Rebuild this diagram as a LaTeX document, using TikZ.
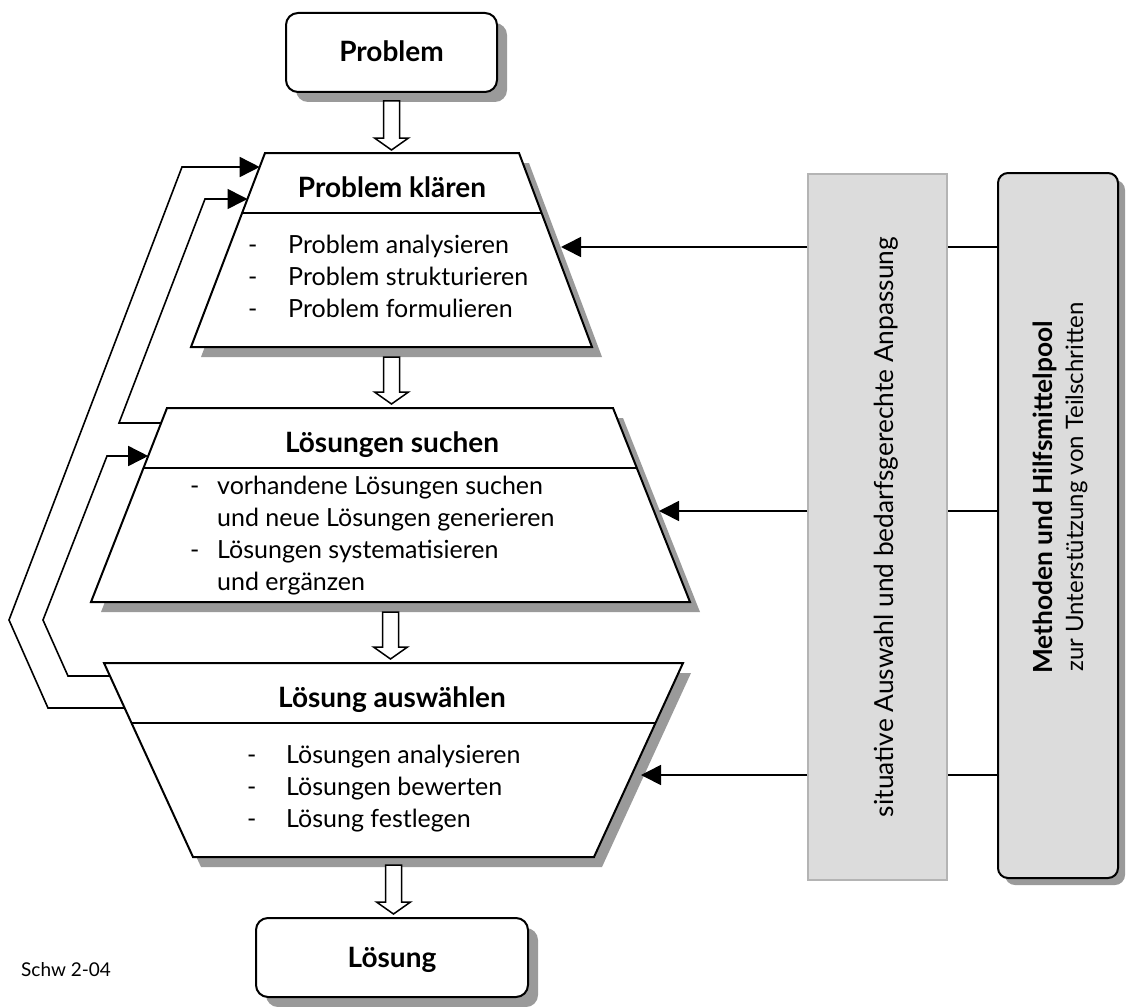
\documentclass[tikz,border=0pt]{standalone}
\usepackage{fontspec}
\setmainfont{Lato}
\usetikzlibrary{arrows.meta,calc,shadows}

\definecolor{shadowgray}{HTML}{9A9A9A}
\definecolor{panelgray}{HTML}{DCDCDC}
\definecolor{panelrule}{HTML}{B4B4B4}

\tikzset{
  outline/.style={draw=black, line width=2pt, fill=white, line join=miter},
  divider/.style={draw=black, line width=1.3pt},
  hollow/.style={draw=black, line width=1.5pt, fill=white, line join=miter},
  link/.style={draw=black, line width=1.6pt},
  feed/.style={link, -{Triangle[length=20pt,width=20pt]}},
  endbox/.style={draw=black, line width=2pt, fill=white, rounded corners=12pt,
    inner sep=0pt, text height=19pt, text depth=0pt,
    font=\fontsize{28}{32}\selectfont\bfseries,
    drop shadow={shadow xshift=10pt, shadow yshift=-10pt, fill=shadowgray, opacity=1}},
  heading/.style={font=\fontsize{28}{32}\selectfont\bfseries, anchor=base, inner sep=0pt},
  item/.style={font=\fontsize{25}{32}\selectfont, anchor=base west, inner sep=0pt},
  vert/.style={font=\fontsize{26.3}{32}\selectfont, rotate=90, inner sep=0pt},
  pics/hollowdown/.style={code={
    \draw[hollow] (-8,0) -- (8,0) -- (8,#1-12) -- (17,#1-12) -- (0,#1)
      -- (-17,#1-12) -- (-8,#1-12) -- cycle;}}
}

\begin{document}
\begin{tikzpicture}[x=1pt,y=-1pt]
\useasboundingbox (0,0) rectangle (1126,1006);

% start and end boxes
\node[endbox, minimum width=211pt, minimum height=79pt] (problem) at (391.5,52.5) {Problem};
\node[endbox, minimum width=272pt, minimum height=79pt] (loesung) at (392,957.5) {Lösung};

% corners of the three phase blocks
\coordinate (a1) at (265,153); \coordinate (b1) at (519,153);
\coordinate (c1) at (592,347); \coordinate (d1) at (191,347);
\coordinate (a2) at (167,408); \coordinate (b2) at (613,408);
\coordinate (c2) at (690,602); \coordinate (d2) at (91,602);
\coordinate (a3) at (104,663); \coordinate (b3) at (683,663);
\coordinate (c3) at (594,857); \coordinate (d3) at (193,857);

% shadows of the phase blocks
\fill[shadowgray] ($(a1)+(10,10)$) -- ($(b1)+(10,10)$) -- ($(c1)+(10,10)$) -- ($(d1)+(10,10)$) -- cycle;
\fill[shadowgray] ($(a2)+(10,10)$) -- ($(b2)+(10,10)$) -- ($(c2)+(10,10)$) -- ($(d2)+(10,10)$) -- cycle;
\fill[shadowgray] ($(a3)+(8,10)$) -- ($(b3)+(8,10)$) -- ($(c3)+(8,10)$) -- ($(d3)+(8,10)$) -- cycle;

% phase blocks with title rows
\draw[outline] (a1) -- (b1) -- (c1) -- (d1) -- cycle;
\draw[divider] ($(a1)!0.309!(d1)$) -- ($(b1)!0.309!(c1)$);
\draw[outline] (a2) -- (b2) -- (c2) -- (d2) -- cycle;
\draw[divider] ($(a2)!0.309!(d2)$) -- ($(b2)!0.309!(c2)$);
\draw[outline] (a3) -- (b3) -- (c3) -- (d3) -- cycle;
\draw[divider] ($(a3)!0.309!(d3)$) -- ($(b3)!0.309!(c3)$);

% block texts
\node[heading] (t1) at (392,197) {Problem klären};
\node[item] (t1a) at (248,253) {\makebox[40pt][l]{-}Problem analysieren};
\node[item] (t1b) at (248,285) {\makebox[40pt][l]{-}Problem strukturieren};
\node[item] (t1c) at (248,317) {\makebox[40pt][l]{-}Problem formulieren};

\node[heading] (t2) at (392,452) {Lösungen suchen};
\node[item] (t2a) at (190,494) {\makebox[27pt][l]{-}vorhandene Lösungen suchen};
\node[item] (t2b) at (217,526) {und neue Lösungen generieren};
\node[item] (t2c) at (190,558) {\makebox[27pt][l]{-}Lösungen systematisieren};
\node[item] (t2d) at (217,590) {und ergänzen};

\node[heading] (t3) at (392,707) {Lösung auswählen};
\node[item] (t3a) at (247,763) {\makebox[39pt][l]{-}Lösungen analysieren};
\node[item] (t3b) at (247,795) {\makebox[39pt][l]{-}Lösungen bewerten};
\node[item] (t3c) at (247,827) {\makebox[39pt][l]{-}Lösung festlegen};

% hollow flow arrows
\path (problem.south) ++(0,8) pic {hollowdown=49};
\path ($(d1)!0.5!(c1)$) ++(0,10) pic {hollowdown=47};
\path ($(d2)!0.5!(c2)$) ++(0,10) pic {hollowdown=47};
\path ($(d3)!0.5!(c3)$) ++(0,8) pic {hollowdown=49};

% feedback loops on the left
\coordinate (f1s) at (124.6,708); \coordinate (f1e) at (259.7,167);
\coordinate (f2s) at (161.1,423); \coordinate (f2e) at (247.5,199);
\coordinate (f3s) at (110.0,676); \coordinate (f3e) at (148.2,456);
\draw[feed] (f1s) -- (48,708) -- (9,620) -- (182,167) -- (f1e);
\draw[feed] (f2s) -- (119,423) -- (205,199) -- (f2e);
\draw[feed] (f3s) -- (68,676) -- (43,620) -- (107,456) -- (f3e);

% panels on the right
\node[draw=panelrule, line width=1.5pt, fill=panelgray, minimum width=139pt, minimum height=706pt, inner sep=0pt] (adapt) at (877.5,527) {};
\node[draw=black, line width=2pt, fill=panelgray, rounded corners=10pt, minimum width=120pt, minimum height=705pt, inner sep=0pt,
  drop shadow={shadow xshift=7pt, shadow yshift=-7pt, fill=shadowgray, opacity=1}] (pool) at (1058,525.5) {};

\node[vert, anchor=base] (adapttext) at (893,527) {situative Auswahl und bedarfsgerechte Anpassung};
\node[vert, anchor=base west, font=\fontsize{26.3}{32}\selectfont\bfseries] (pooltitle) at (1052,674) {Methoden und Hilfsmittelpool};
\node[vert, anchor=base west, font=\fontsize{24}{32}\selectfont] (poolsub) at (1083,672) {zur Unterstützung von Teilschritten};

% support links into the phase blocks
\coordinate (in1) at (561,247);
\coordinate (in2) at (659,511);
\coordinate (in3) at (641,775);
\draw[link] (pool.west |- in1) -- (adapt.east |- in1);
\draw[link] (pool.west |- in2) -- (adapt.east |- in2);
\draw[link] (pool.west |- in3) -- (adapt.east |- in3);
\draw[feed] (adapt.west |- in1) -- (in1);
\draw[feed] (adapt.west |- in2) -- (in2);
\draw[feed] (adapt.west |- in3) -- (in3);

% drawing code
\node[anchor=base west, inner sep=0pt, font=\fontsize{19}{22}\selectfont] (code) at (21,976) {Schw 2-04};
\end{tikzpicture}
\end{document}
